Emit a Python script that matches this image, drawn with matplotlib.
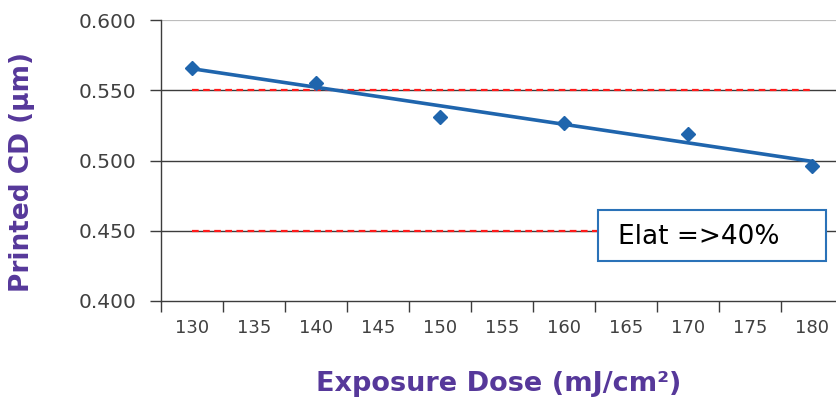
import numpy as np
import matplotlib
matplotlib.use("Agg")
import matplotlib.pyplot as plt
from matplotlib.ticker import FixedLocator
from matplotlib.patches import Rectangle

# measured CD vs exposure dose
dose = [130, 140, 150, 160, 170, 180]
cd = [0.566, 0.555, 0.531, 0.527, 0.519, 0.496]

# spec limits
usl = 0.550
lsl = 0.450
spec_x = [130, 180]

dose_labels = [130, 135, 140, 145, 150, 155, 160, 165, 170, 175, 180]
cd_ticks = [0.400, 0.450, 0.500, 0.550, 0.600]

blue = '#1f65ad'
purple = '#56389a'
grey_txt = '#404040'

fig = plt.figure(figsize=(8.36, 4.03), dpi=100)
ax = fig.add_axes([161 / 836, 1 - 301 / 403, 675 / 836, 281 / 403])

ax.set_xlim(127.5, 181.9)
ax.set_ylim(0.400, 0.600)

# horizontal grid
for v in cd_ticks[1:-1]:
    ax.axhline(v, color='#3c3c3c', lw=1.0, zorder=1)
ax.axhline(0.600, color='#bdbdbd', lw=1.6, zorder=1)

# spec lines
ax.plot(spec_x, [usl, usl], color='#ff1a1a', lw=1.6, ls=(0, (3, 2)), zorder=2)
ax.plot(spec_x, [lsl, lsl], color='#ff1a1a', lw=1.6, ls=(0, (3, 2)), zorder=2)

# linear trend
k, b = np.polyfit(dose, cd, 1)
xs = np.array([dose[0], dose[-1]])
ax.plot(xs, k * xs + b, color=blue, lw=2.6, zorder=3)

ax.plot(dose, cd, ls='none', marker='D', ms=7, color=blue, zorder=4)

# axes styling
for s in ['top', 'right']:
    ax.spines[s].set_visible(False)
for s in ['left', 'bottom']:
    ax.spines[s].set_color('#3c3c3c')
    ax.spines[s].set_linewidth(1.0)

ax.set_yticks(cd_ticks)
ax.set_yticklabels(['%.3f' % v for v in cd_ticks])
ax.tick_params(axis='y', length=8, width=1.0, color='#3c3c3c', pad=10,
               labelsize=14.5, labelcolor=grey_txt)

ax.set_xticks(dose_labels)
ax.set_xticklabels([str(v) for v in dose_labels])
ax.xaxis.set_minor_locator(FixedLocator(np.arange(127.5, 182, 5)))
ax.tick_params(axis='x', which='major', length=0, pad=13,
               labelsize=13, labelcolor=grey_txt)
ax.tick_params(axis='x', which='minor', length=8, width=1.0, color='#3c3c3c')

fig.text(22 / 836, 1 - 172 / 403, 'Printed CD (µm)', rotation=90,
         ha='center', va='center', color=purple, fontsize=19, fontweight='bold')
fig.text(499 / 836, 1 - 384 / 403, 'Exposure Dose (mJ/cm²)',
         ha='center', va='center', color=purple, fontsize=19.5, fontweight='bold')

# annotation box
fig.patches.append(Rectangle((598 / 836, 1 - 261 / 403), 228 / 836, 51 / 403,
                             transform=fig.transFigure, fc='white',
                             ec='#2a72b8', lw=1.5, zorder=5))
fig.text(618 / 836, 1 - 237 / 403, 'Elat =>40%', ha='left', va='center',
         fontsize=19, color='black', zorder=6)

fig.savefig('out.png', dpi=100)
